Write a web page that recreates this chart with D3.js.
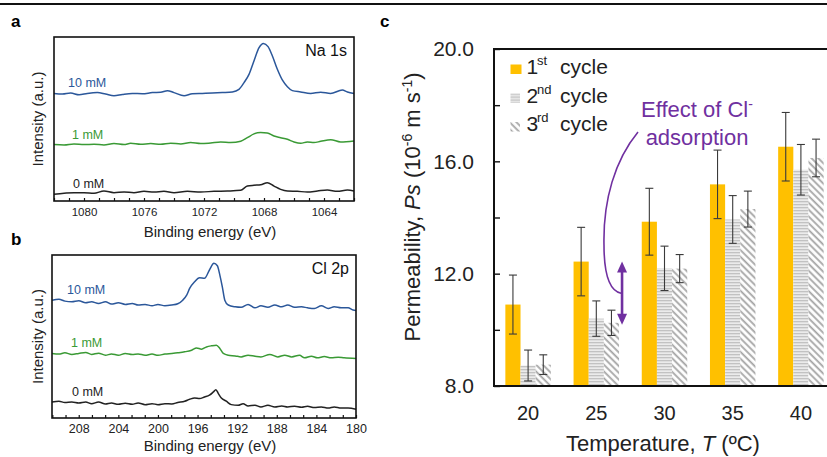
<!DOCTYPE html>
<html>
<head>
<meta charset="utf-8">
<script src="https://cdnjs.cloudflare.com/ajax/libs/d3/7.8.5/d3.min.js"></script>
<style>
body { margin: 0; background: #fff; }
svg { font-family: Arial, "Liberation Sans", sans-serif; }
</style>
</head>
<body>
<script>
// panel a, Na 1s: [binding energy (eV), intensity (a.u.)]
var na10 = [[1082.0,65.6],[1081.44,65.2],[1080.89,65.8],[1080.33,64.8],[1079.78,65.6],[1079.11,66.1],[1078.56,65.2],[1078.0,64.2],[1077.44,65.0],[1076.78,65.6],[1076.11,65.4],[1075.44,66.1],[1074.89,66.3],[1074.44,67.3],[1074.0,66.1],[1073.33,64.2],[1072.78,65.4],[1072.11,65.6],[1071.44,65.8],[1070.78,66.1],[1070.11,66.5],[1069.67,68.1],[1069.33,72.2],[1069.0,77.2],[1068.67,85.4],[1068.33,93.5],[1068.04,96.1],[1067.73,94.1],[1067.44,88.4],[1067.11,80.3],[1066.78,73.8],[1066.44,69.7],[1066.11,67.3],[1065.56,66.5],[1064.89,65.6],[1064.22,66.3],[1063.56,65.6],[1062.78,67.7],[1062.44,66.5],[1062.0,65.6]];
var na1 = [[1082.0,34.4],[1081.33,34.2],[1080.67,34.8],[1080.0,34.4],[1079.33,34.6],[1078.67,34.2],[1078.0,35.0],[1077.33,34.4],[1076.89,35.2],[1076.22,34.6],[1075.55,35.0],[1074.89,34.6],[1074.22,35.2],[1073.55,34.8],[1072.89,35.6],[1072.22,35.0],[1071.55,35.4],[1070.89,36.0],[1070.22,35.6],[1069.55,36.4],[1069.11,38.6],[1068.67,40.9],[1068.22,41.7],[1067.78,41.5],[1067.33,39.6],[1066.89,38.6],[1066.44,37.6],[1066.0,36.0],[1065.55,35.2],[1065.11,36.0],[1064.67,35.6],[1064.22,36.4],[1063.55,37.4],[1062.89,36.0],[1062.0,36.6]];
var na0 = [[1082.0,4.1],[1081.33,4.7],[1080.67,5.1],[1080.0,5.1],[1079.33,4.7],[1078.67,6.1],[1078.0,5.1],[1077.33,5.5],[1076.67,5.1],[1076.0,5.9],[1075.33,5.5],[1074.67,5.9],[1074.0,5.1],[1073.11,5.9],[1072.22,5.5],[1071.33,5.9],[1070.44,6.1],[1069.56,6.5],[1069.11,9.1],[1068.67,9.6],[1068.22,9.9],[1067.78,11.2],[1067.33,9.1],[1066.89,7.1],[1066.44,6.1],[1065.78,5.9],[1065.11,5.5],[1064.44,6.1],[1063.78,6.7],[1063.11,5.9],[1062.44,6.7],[1062.0,6.1]];
var naTicks = [1080, 1076, 1072, 1068, 1064];

// panel b, Cl 2p
var cl10 = [[210.7,72.3],[210.0,72.8],[209.4,71.7],[208.7,71.3],[208.0,71.9],[207.3,70.7],[206.7,71.3],[206.0,70.3],[205.3,71.3],[204.7,69.9],[204.0,70.7],[203.3,69.7],[202.6,70.3],[202.0,69.3],[201.3,69.7],[200.6,68.8],[200.0,69.7],[199.3,68.8],[198.6,69.3],[198.0,70.1],[197.5,72.3],[197.1,75.4],[196.8,79.5],[196.3,83.6],[195.8,86.0],[195.3,85.7],[194.8,90.8],[194.35,94.9],[194.0,93.4],[193.75,87.7],[193.5,80.5],[193.25,72.3],[192.9,69.3],[192.2,68.2],[191.6,67.9],[190.9,69.7],[190.2,67.6],[189.6,68.8],[188.9,67.9],[188.2,69.3],[187.5,68.2],[186.9,69.3],[186.2,67.9],[185.5,68.2],[184.9,67.6],[184.2,67.2],[183.5,68.8],[182.8,67.2],[182.2,68.2],[181.5,67.6],[180.8,67.6],[180.3,66.2],[180.0,66.0]];
var cl1 = [[210.7,39.6],[210.0,39.2],[209.4,40.0],[208.7,39.0],[208.0,39.6],[207.3,40.2],[206.7,39.0],[206.0,39.8],[205.3,38.5],[204.7,39.3],[204.0,38.5],[203.3,39.6],[202.6,39.0],[202.0,39.3],[201.3,38.5],[200.6,39.2],[200.0,38.5],[199.3,39.2],[198.6,39.6],[198.0,40.0],[197.3,40.6],[196.6,41.6],[196.1,43.0],[195.6,42.2],[195.1,43.6],[194.6,44.3],[194.1,44.7],[193.75,42.7],[193.4,39.6],[192.9,38.5],[192.2,38.1],[191.6,37.5],[190.9,38.5],[190.2,37.9],[189.6,37.5],[188.7,39.0],[187.9,37.5],[187.2,38.5],[186.5,37.5],[185.7,38.5],[185.2,36.9],[184.5,37.9],[183.9,36.9],[183.2,37.7],[182.5,36.9],[181.8,37.3],[181.2,36.9],[180.0,36.5]];
var cl0 = [[210.7,9.8],[210.0,10.3],[209.4,9.5],[208.7,9.8],[208.0,9.2],[207.3,9.8],[206.7,8.8],[206.0,9.8],[205.3,8.6],[204.7,9.2],[204.0,8.4],[203.3,9.0],[202.6,8.4],[202.0,9.2],[201.3,8.2],[200.6,8.8],[200.0,8.2],[199.3,8.8],[198.6,8.6],[198.0,9.5],[197.3,10.3],[196.8,11.5],[196.3,12.3],[195.8,11.9],[195.3,12.9],[194.8,14.0],[194.4,16.0],[194.15,17.4],[193.9,15.0],[193.6,12.3],[193.1,10.3],[192.6,8.2],[191.9,7.8],[191.4,8.8],[190.9,7.4],[190.2,7.8],[189.6,6.8],[188.9,7.8],[188.2,6.8],[187.5,7.4],[186.9,6.8],[186.2,7.2],[185.5,6.6],[184.9,7.2],[184.2,6.4],[183.5,6.8],[182.8,6.1],[182.2,6.8],[181.5,6.1],[180.8,6.1],[180.0,5.4]];
var clTicks = [208, 204, 200, 196, 192, 188, 184, 180];

var concLabels = ['10 mM', '1 mM', '0 mM'];
var concColors = ['#2b579a', '#3a9a35', '#222'];

// panel c, permeability (1e-6 m/s)
var temps = ['20', '25', '30', '35', '40'];
var cycles = ['1', '2', '3'];
var cycleSup = ['st', 'nd', 'rd'];
var cycle1 = [10.9, 12.43, 13.85, 15.18, 16.52];
var cycle2 = [8.73, 10.4, 12.19, 13.93, 15.7];
var cycle3 = [8.76, 10.25, 12.18, 14.3, 16.12];
var err1 = [1.05, 1.22, 1.19, 1.22, 1.22];
var err2 = [0.55, 0.63, 0.79, 0.85, 0.9];
var err3 = [0.35, 0.45, 0.5, 0.64, 0.67];
var psTicks = [8, 10, 12, 14, 16, 18, 20];

var svg = d3.select('body').append('svg')
    .attr('width', 827)
    .attr('height', 457);

svg.append('line')
    .attr('x1', 0).attr('x2', 827)
    .attr('y1', 4).attr('y2', 4)
    .attr('stroke', '#111').attr('stroke-width', 2);

function drawSpectra(cfg) {
    var g = svg.append('g');
    var x = d3.scaleLinear().domain(cfg.domain).range([cfg.left, cfg.right]);
    var y = d3.scaleLinear().domain([0, 100]).range([cfg.bottom, cfg.top]);
    var line = d3.line()
        .x(d => x(d[0]))
        .y(d => y(d[1]))
        .curve(d3.curveMonotoneX);

    g.selectAll('path.spec')
        .data(cfg.series)
        .enter()
        .append('path')
            .attr('d', d => line(d))
            .attr('fill', 'none')
            .attr('stroke', (d, i) => concColors[i])
            .attr('stroke-width', 1.5);

    g.selectAll('text.conc')
        .data(cfg.series)
        .enter()
        .append('text')
            .attr('x', (d, i) => cfg.left + cfg.labelDx[i])
            .attr('y', d => y(d[0][1]) - 6)
            .style('fill', (d, i) => concColors[i])
            .style('font-size', '12.5px')
            .text((d, i) => concLabels[i]);

    var ax = d3.axisBottom(x)
        .tickValues(cfg.ticks)
        .tickSize(-3)
        .tickPadding(cfg.pad)
        .tickFormat(d => cfg.labels.indexOf(d) >= 0 ? d : '');
    g.append('g')
        .attr('transform', 'translate(0,' + cfg.bottom + ')')
        .call(ax)
        .call(a => a.select('.domain').remove())
        .call(a => a.selectAll('line').attr('stroke', '#111').attr('stroke-width', 1.2))
        .call(a => a.selectAll('text').attr('fill', '#222').style('font-size', cfg.tickSize + 'px')
            .style('font-family', 'Arial, "Liberation Sans", sans-serif'));

    g.append('rect')
        .attr('x', cfg.left).attr('y', cfg.top)
        .attr('width', cfg.right - cfg.left).attr('height', cfg.bottom - cfg.top)
        .attr('fill', 'none').attr('stroke', '#111').attr('stroke-width', 1.6);

    g.append('text')
        .attr('x', cfg.right - 7).attr('y', cfg.top + 19)
        .attr('text-anchor', 'end')
        .style('font-size', '16px').style('fill', '#111')
        .text(cfg.name);

    g.append('text')
        .attr('x', 210).attr('y', cfg.titleY)
        .attr('text-anchor', 'middle')
        .style('font-size', '15px').style('fill', '#222')
        .text('Binding energy (eV)');

    g.append('text')
        .attr('transform', 'translate(43,' + ((cfg.top + cfg.bottom) / 2) + ') rotate(-90)')
        .attr('text-anchor', 'middle')
        .style('font-size', '15px').style('fill', '#222')
        .text('Intensity (a.u.)');

    g.append('text')
        .attr('x', 11).attr('y', cfg.top - 10)
        .style('font-size', '17px').style('font-weight', 'bold')
        .text(cfg.letter);
}

// ticks every 1 eV in a, every 4/3 eV in b
drawSpectra({
    letter: 'a', name: 'Na 1s', series: [na10, na1, na0],
    left: 54, right: 354, top: 37, bottom: 201, domain: [1082, 1062],
    ticks: d3.range(1062, 1083, 1), labels: naTicks, tickSize: 11.5, pad: 7,
    labelDx: [14, 18, 19], titleY: 237
});
drawSpectra({
    letter: 'b', name: 'Cl 2p', series: [cl10, cl1, cl0],
    left: 52, right: 356, top: 255, bottom: 418, domain: [210.7, 180],
    ticks: d3.range(-2, 22).map(k => 208 - k * 4 / 3).filter(v => v >= 180 && v <= 210.7),
    labels: clTicks, tickSize: 12.5, pad: 6,
    labelDx: [15, 19, 20], titleY: 451
});

// panel c
var c = {left: 494, right: 835, top: 49, bottom: 386};
var gc = svg.append('g');

var defs = svg.append('defs');
var ph = defs.append('pattern')
    .attr('id', 'hstripe')
    .attr('patternUnits', 'userSpaceOnUse')
    .attr('width', 4).attr('height', 3);
ph.append('rect').attr('width', 4).attr('height', 3).attr('fill', '#ebebeb');
ph.append('rect').attr('width', 4).attr('height', 1.3).attr('fill', '#c2c2c2');
var pd = defs.append('pattern')
    .attr('id', 'dstripe')
    .attr('patternUnits', 'userSpaceOnUse')
    .attr('width', 4.8).attr('height', 4.8)
    .attr('patternTransform', 'rotate(-45)');
pd.append('rect').attr('width', 4.8).attr('height', 4.8).attr('fill', '#fff');
pd.append('line').attr('x1', 1.2).attr('x2', 1.2).attr('y1', 0).attr('y2', 4.8)
    .attr('stroke', '#a3a3a3').attr('stroke-width', 1.8);

var fills = ['#FFC000', 'url(#hstripe)', 'url(#dstripe)'];

var x = d3.scaleBand()
    .domain(temps)
    .range([c.left, c.right])
    .paddingInner(0.333)
    .paddingOuter(0.1665);
var xs = d3.scaleBand()
    .domain(cycles)
    .range([0, x.bandwidth()]);
var y = d3.scaleLinear()
    .domain([8, 20])
    .range([c.bottom, c.top]);

var rows = [];
temps.forEach((t, i) => {
    rows.push({t: t, k: 0, v: cycle1[i], e: err1[i]});
    rows.push({t: t, k: 1, v: cycle2[i], e: err2[i]});
    rows.push({t: t, k: 2, v: cycle3[i], e: err3[i]});
});

gc.selectAll('rect.bar')
    .data(rows)
    .enter()
    .append('rect')
        .attr('x', d => x(d.t) + xs(cycles[d.k]))
        .attr('y', d => y(d.v))
        .attr('width', xs.bandwidth())
        .attr('height', d => y(8) - y(d.v))
        .attr('fill', d => fills[d.k]);

var eb = gc.selectAll('g.err')
    .data(rows)
    .enter()
    .append('g')
        .attr('stroke', '#3a3a3a')
        .attr('stroke-width', 1.1);
var ex = d => x(d.t) + xs(cycles[d.k]) + xs.bandwidth() / 2;
eb.append('line')
    .attr('x1', ex).attr('x2', ex)
    .attr('y1', d => y(d.v + d.e)).attr('y2', d => y(d.v - d.e));
eb.append('line')
    .attr('x1', d => ex(d) - 4).attr('x2', d => ex(d) + 4)
    .attr('y1', d => y(d.v + d.e)).attr('y2', d => y(d.v + d.e));
eb.append('line')
    .attr('x1', d => ex(d) - 4).attr('x2', d => ex(d) + 4)
    .attr('y1', d => y(d.v - d.e)).attr('y2', d => y(d.v - d.e));

// y axis with inward ticks
gc.append('g')
    .attr('transform', 'translate(' + c.left + ',0)')
    .call(d3.axisLeft(y).tickValues(psTicks).tickSize(-6).tickPadding(20)
        .tickFormat(d => d % 4 === 0 ? d.toFixed(1) : ''))
    .call(a => a.select('.domain').remove())
    .call(a => a.selectAll('line').attr('stroke', '#111').attr('stroke-width', 1.4))
    .call(a => a.selectAll('text').attr('fill', '#222').style('font-size', '21px')
        .style('font-family', 'Arial, "Liberation Sans", sans-serif'));
gc.append('g')
    .attr('transform', 'translate(' + c.right + ',0)')
    .call(d3.axisRight(y).tickValues(psTicks).tickSize(-8).tickFormat(''))
    .call(a => a.select('.domain').remove())
    .call(a => a.selectAll('line').attr('stroke', '#111').attr('stroke-width', 1.4));

gc.append('g')
    .attr('transform', 'translate(0,' + c.bottom + ')')
    .call(d3.axisBottom(x).tickSize(0).tickPadding(20))
    .call(a => a.select('.domain').remove())
    .call(a => a.selectAll('text').attr('fill', '#222').style('font-size', '20px')
        .style('font-family', 'Arial, "Liberation Sans", sans-serif'));

gc.append('rect')
    .attr('x', c.left).attr('y', c.top)
    .attr('width', c.right - c.left).attr('height', c.bottom - c.top)
    .attr('fill', 'none').attr('stroke', '#111').attr('stroke-width', 2);

// legend
var leg = gc.selectAll('g.leg')
    .data(cycles)
    .enter()
    .append('g')
        .attr('transform', (d, i) => 'translate(510,' + (74 + i * 28.5) + ')');
leg.append('rect')
    .attr('x', 0.5)
    .attr('y', (d, i) => i === 0 ? -9.5 : -9)
    .attr('width', (d, i) => i === 0 ? 11 : 9.5)
    .attr('height', 9.5)
    .attr('fill', (d, i) => fills[i]);
leg.append('text')
    .attr('x', 16.5)
    .style('font-size', '21px').style('fill', '#222')
    .text(d => d);
leg.append('text')
    .attr('x', 27).attr('y', -9)
    .style('font-size', '13px').style('fill', '#222')
    .text((d, i) => cycleSup[i]);
leg.append('text')
    .attr('x', 50)
    .style('font-size', '21px').style('fill', '#222')
    .text('cycle');

// annotation
var purple = '#7030a0';
var ann = gc.append('text')
    .attr('x', 697).attr('y', 117)
    .attr('text-anchor', 'middle')
    .style('font-size', '22px').style('fill', purple);
ann.append('tspan').text('Effect of Cl');
ann.append('tspan').attr('dy', -8).style('font-size', '14px').text('-');
gc.append('text')
    .attr('x', 697).attr('y', 145)
    .attr('text-anchor', 'middle')
    .style('font-size', '22px').style('fill', purple)
    .text('adsorption');

var axX = x('25') + x.bandwidth() + 3;
var yTop = y(cycle1[1]);
var yBot = y(cycle3[1]) + 2;
var yMid = (yTop + yBot) / 2;
gc.append('line')
    .attr('x1', axX).attr('x2', axX)
    .attr('y1', yTop + 9).attr('y2', yBot - 9)
    .attr('stroke', purple).attr('stroke-width', 2.6);
gc.append('path')
    .attr('d', 'M' + axX + ',' + yTop + 'l-5,11h10z')
    .attr('fill', purple);
gc.append('path')
    .attr('d', 'M' + axX + ',' + yBot + 'l-5,-11h10z')
    .attr('fill', purple);
gc.append('path')
    .attr('d', 'M638,132 C615,160 603,200 604,245 C604,276 610,291 ' + (axX - 1) + ',' + yMid)
    .attr('fill', 'none')
    .attr('stroke', purple)
    .attr('stroke-width', 1.6);

gc.append('text')
    .attr('x', 380).attr('y', 27)
    .style('font-size', '17px').style('font-weight', 'bold')
    .text('c');

// y and x titles
var yt = gc.append('text')
    .attr('transform', 'translate(420,207) rotate(-90)')
    .attr('text-anchor', 'middle')
    .style('font-size', '22px').style('fill', '#222');
yt.append('tspan').text('Permeability, ');
yt.append('tspan').style('font-style', 'italic').text('Ps');
yt.append('tspan').text(' (10');
yt.append('tspan').attr('dy', -8).style('font-size', '14px').text('-6');
yt.append('tspan').attr('dy', 8).text(' m s');
yt.append('tspan').attr('dy', -8).style('font-size', '14px').text('-1');
yt.append('tspan').attr('dy', 8).text(')');

var xt = gc.append('text')
    .attr('x', 663).attr('y', 451)
    .attr('text-anchor', 'middle')
    .style('font-size', '22px').style('fill', '#222');
xt.append('tspan').text('Temperature, ');
xt.append('tspan').style('font-style', 'italic').text('T');
xt.append('tspan').text(' (\u00baC)');
</script>
</body>
</html>
